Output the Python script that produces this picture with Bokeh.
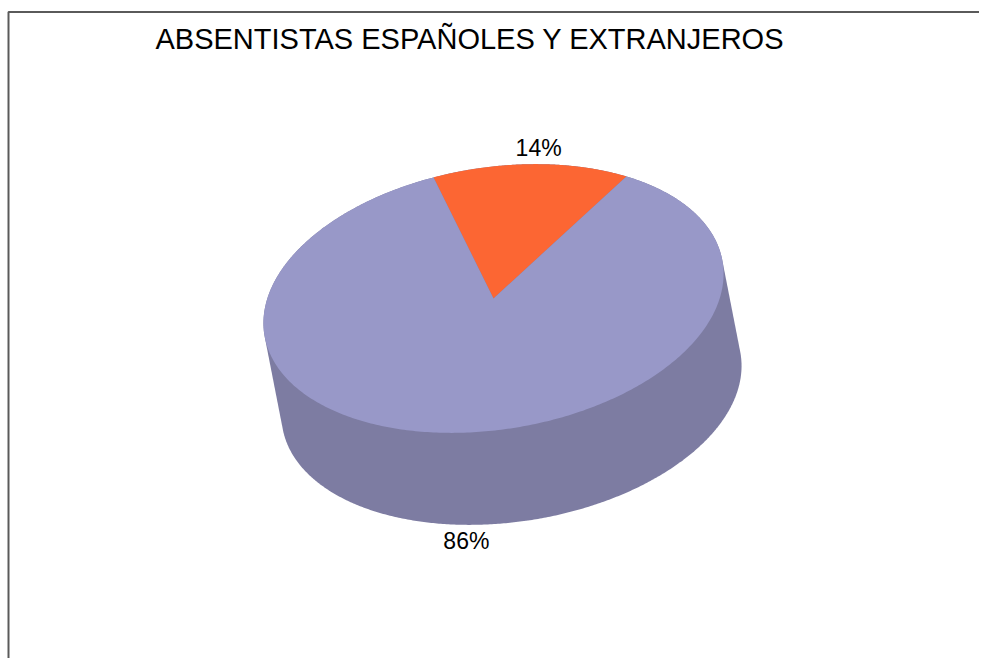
import numpy as np
from bokeh.plotting import figure
from bokeh.models import Range1d
from bokeh.core.properties import value
from bokeh.embed import file_html
from bokeh.resources import INLINE

# ---- data ----
categories = ["Extranjeros", "Españoles"]
values = [14, 86]
labels = ["14%", "86%"]
title_text = "ABSENTISTAS ESPAÑOLES Y EXTRANJEROS"

# ---- styles ----
top_colors = ["#FC6633", "#9898C8"]
side_color = "#7D7CA2"
W, H = 979, 658

# geometry (data units = pixels, y up)
cx, cy = 493.0, 360.0
a, b = 232.0, 131.0
theta = np.radians(9.0)
dx, dy = 18.0, -92.0
start_deg = 49.6

def ell(t, k=1.0):
    x = k * a * np.cos(t)
    y = k * b * np.sin(t)
    return (cx + x * np.cos(theta) - y * np.sin(theta),
            cy + x * np.sin(theta) + y * np.cos(theta))

p = figure(width=W, height=H, output_backend="svg", toolbar_location=None,
           x_range=Range1d(0, W), y_range=Range1d(0, H), min_border=0)
p.axis.visible = False
p.grid.visible = False
p.outline_line_color = None
p.background_fill_color = "white"

# border (top and left visible)
p.line([8, 8, W + 5], [-5, 646.5, 646.5], line_color="#5a5a5a", line_width=2)

# side (extruded hull)
tt = np.linspace(0, 2 * np.pi, 721)
ex, ey = ell(tt)
pts = np.concatenate([np.column_stack([ex, ey]), np.column_stack([ex + dx, ey + dy])])
P = sorted(map(tuple, pts))
def cross(o, a_, b_):
    return (a_[0]-o[0])*(b_[1]-o[1]) - (a_[1]-o[1])*(b_[0]-o[0])
lower, upper = [], []
for q in P:
    while len(lower) >= 2 and cross(lower[-2], lower[-1], q) <= 0:
        lower.pop()
    lower.append(q)
for q in reversed(P):
    while len(upper) >= 2 and cross(upper[-2], upper[-1], q) <= 0:
        upper.pop()
    upper.append(q)
hull = lower[:-1] + upper[:-1]
p.patch([q[0] for q in hull], [q[1] for q in hull], fill_color=side_color, line_color=None)

# top wedges
total = float(sum(values))
ang = np.radians(start_deg)
mids = []
for v, col in zip(values, top_colors):
    span = 2 * np.pi * v / total
    t = np.linspace(ang, ang + span, 400)
    xs, ys = ell(t)
    p.patch([cx] + list(xs), [cy] + list(ys), fill_color=col, line_color=None)
    mids.append(ang + span / 2)
    ang += span

# labels
lx, ly = [], []
for m in mids:
    x, y = ell(np.array([m]), 1.12)
    x, y = float(x[0]), float(y[0])
    if np.sin(m) < 0:
        x += dx
        y += dy
    lx.append(x)
    ly.append(y)
p.text(lx, ly, text=labels, text_align="center", text_baseline="middle",
       text_font=value("Liberation Sans"), text_font_size="23px", text_color="black")

p.text([155], [620], text=[title_text], text_align="left", text_baseline="alphabetic",
       text_font=value("Liberation Sans"), text_font_size="29px", text_color="black")

open("out.html", "w").write(file_html(p, INLINE))
